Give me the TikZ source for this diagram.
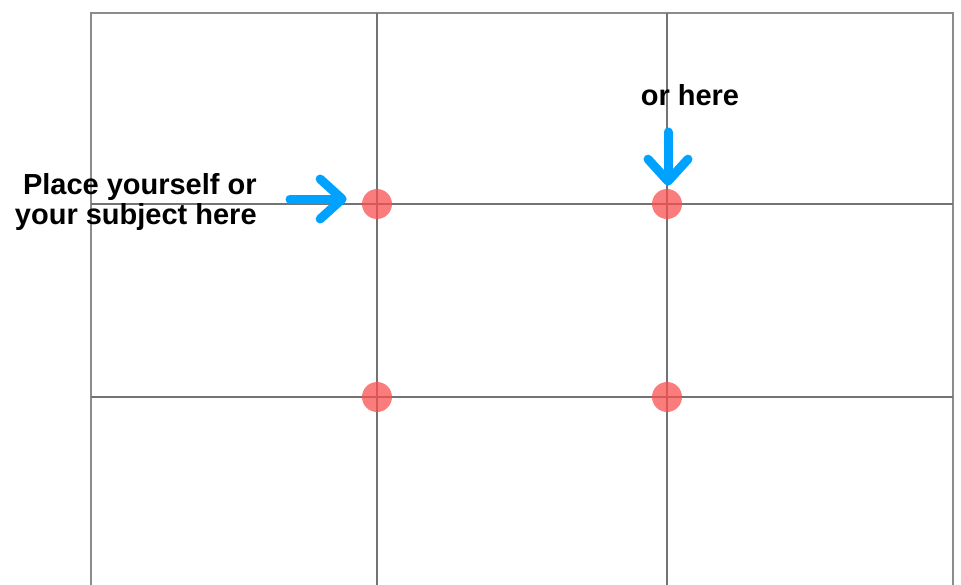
\documentclass[tikz,border=0pt]{standalone}
\usepackage{fontspec}
\setmainfont{Liberation Sans}
\usetikzlibrary{arrows.meta}

\begin{document}
\begin{tikzpicture}
		[
			x=0.02cm,
			y=-0.02cm,
			frameline/.style={draw=black!45, line width=0.05cm},
			gridline/.style={draw=black!55, line width=0.04cm},
			hotspot/.style={circle, minimum size=0.6cm, inner sep=0pt,
					fill={rgb,255:red,250;green,80;blue,80}, fill opacity=0.75},
			pointer/.style={draw={rgb,255:red,0;green,162;blue,255}, line width=0.18cm,
					line cap=round, line join=round,
					-{Straight Barb[length=0.44cm, width=0.8cm, round]}},
			caption/.style={font=\fontsize{16.5}{17.4}\selectfont\bfseries,
					inner sep=0pt, align=right}
		]
		\useasboundingbox (0,0) rectangle (961,585);
		% Frame
		\draw[frameline] (91,585) -- (91,13) -- (953,13) -- (953,585);
		% Thirds
		\foreach \x in {377,667} {
				\draw[gridline] (\x,13) -- (\x,585);
			}
		\foreach \y in {204,397} {
				\draw[gridline] (91,\y) -- (953,\y);
			}
		% Power points
		\foreach \name/\x/\y in {tl/377/204, tr/667/204, bl/377/397, br/667/397} {
				\node[hotspot] (\name) at (\x,\y) {};
			}
		% Labels
		\node[caption, anchor=north east] (place) at (257,173) {Place yourself or\\your subject here};
		\node[caption, anchor=base] (orhere) at (690,105) {or here};
		% Arrows
		\coordinate (tailA) at (290,199);
		\coordinate (tailB) at (668,132);
		\draw[pointer] (tailA) -- ([shift={(-15,-5)}]tl.west);
		\draw[pointer] (tailB) -- ([shift={(1,-3)}]tr.north);
	\end{tikzpicture}
\end{document}
